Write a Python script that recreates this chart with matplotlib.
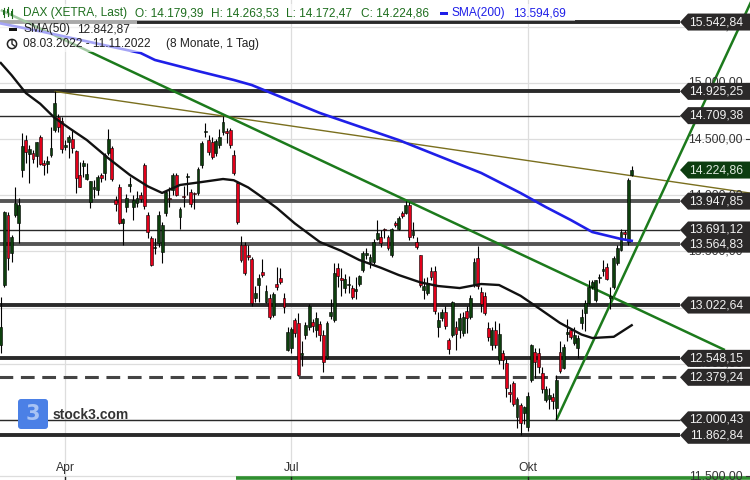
import numpy as np
import pandas as pd
import matplotlib
matplotlib.use("Agg")
import matplotlib.pyplot as plt
from matplotlib.patches import Polygon, Circle, FancyBboxPatch, Rectangle
from matplotlib.transforms import IdentityTransform

plt.rcParams['font.family'] = ['Liberation Sans', 'DejaVu Sans']

# DAX (XETRA) daily candles, 08.03.2022 - 11.11.2022
opens = [12667, 13201, 13825, 13483, 13825, 13756, 14225, 14492, 14368, 14374, 14350, 14522, 14290, 14280, 14362, 14581, 14700, 14665,
         14430, 14478, 14498, 14394, 14181, 14261, 14145, 13943, 14053, 14047, 14181, 14200, 14380, 14420, 13960, 14077, 13751, 13896, 14085,
         13900, 13930, 14003, 14270, 13825, 13617, 13528, 13573, 13495, 13840, 13980, 14047, 14181, 13807, 13990, 14160, 14030, 14020, 14020, 14270, 14560, 14492,
         14475, 14376, 14448, 14564, 14564, 14581, 14359, 14110, 13557, 13557, 13470, 13433, 13085, 13201, 13317, 13050, 13085, 12934, 13210, 13264, 13085, 12622,
         12640, 12890, 12863, 12578, 12756, 12827, 12870, 12800, 12850, 12756, 12551, 12925, 12890, 13353, 13260, 13175, 13200, 13175, 13150, 13210, 13335,
         13470, 13406, 13406, 13611, 13629, 13690, 13629, 13468, 13753, 13700, 13842, 13842, 13914, 13646, 13584, 13468, 13157, 13130, 13326, 13326, 12827, 12907, 12961,
         12711, 12756, 12827, 12800, 12774, 12970, 12916, 13201, 13442, 13139, 13100, 12818, 12667, 12800, 12533, 12600, 12507, 12250, 12329, 12026, 12133, 12062,
         11937, 12355, 12605, 12596, 12418, 12177, 12190, 12204, 12106, 12605, 12462, 12765, 12800, 12685, 12640, 12863, 12952, 13041, 13183, 13068, 13260,
         13330, 13362, 13085, 13183, 13397, 13513, 13673, 13584, 14179.39]
highs = [13094, 13860, 13851, 13646, 14077, 13973, 14555, 14537, 14448, 14400, 14478, 14540, 14314, 14350, 14611, 14925, 14727, 14700,
         14492, 14537, 14581, 14403, 14299, 14314, 14288, 14130, 14136, 14180, 14200, 14380, 14590, 14440, 13990, 14100, 13800, 14010, 14160,
         14003, 14040, 14030, 14290, 13850, 13640, 13620, 13860, 13760, 14040, 14070, 14200, 14200, 13900, 14080, 14200, 14060, 14030, 14250, 14480, 14640, 14540,
         14520, 14500, 14590, 14709, 14600, 14600, 14400, 14130, 13640, 13580, 13560, 13450, 13190, 13300, 13430, 13200, 13120, 13140, 13360, 13350, 13130, 12830,
         12830, 12910, 12950, 12700, 12870, 13030, 12900, 12960, 12880, 12800, 12880, 13080, 13400, 13400, 13350, 13300, 13280, 13200, 13270, 13290, 13500,
         13530, 13480, 13610, 13780, 13690, 13710, 13650, 13710, 13770, 13815, 13860, 13948, 13940, 13760, 13630, 13470, 13260, 13270, 13360, 13370, 12960, 12990, 13010,
         12730, 13060, 12880, 12950, 12960, 13010, 13110, 13440, 13546, 13185, 13140, 12870, 12830, 12880, 12860, 12620, 12540, 12320, 12350, 12200, 12150, 12120,
         12250, 12680, 12640, 12640, 12470, 12300, 12280, 12240, 12400, 12700, 12680, 12900, 12820, 12830, 12760, 12990, 13070, 13250, 13250, 13250, 13300,
         13420, 13400, 13180, 13460, 13560, 13700, 13690, 14150, 14263.53]
lows = [12600, 13180, 13335, 13406, 13810, 13573, 14163, 14290, 14107, 14290, 14252, 14270, 14181, 14200, 14340, 14566, 14566, 14380,
        14403, 14329, 14374, 14018, 14071, 14166, 14136, 13884, 13973, 14000, 14120, 14136, 14359, 14130, 13860, 13740, 13557, 13850, 14030,
        13780, 13900, 13940, 13880, 13620, 13370, 13480, 13540, 13400, 13820, 13900, 14000, 13990, 13700, 13900, 14000, 13900, 13880, 14000, 14240, 14520, 14360,
        14320, 14350, 14420, 14540, 14470, 14420, 14180, 13740, 13410, 13290, 13420, 13010, 13050, 13050, 13270, 13040, 12900, 12920, 13160, 13210, 12950, 12610,
        12600, 12740, 12390, 12480, 12720, 12800, 12780, 12740, 12700, 12426, 12540, 12900, 12870, 13180, 13100, 13130, 13130, 13080, 13080, 13190, 13320,
        13430, 13350, 13390, 13600, 13540, 13620, 13510, 13450, 13720, 13690, 13800, 13830, 13600, 13620, 13520, 13180, 13080, 13110, 13250, 12940, 12740, 12880, 12810,
        12590, 12740, 12620, 12730, 12750, 12770, 12900, 13180, 13170, 12960, 12930, 12700, 12620, 12640, 12500, 12450, 12200, 12160, 12120, 11930, 11863, 11960,
        11900, 12340, 12370, 12420, 12240, 12160, 12100, 12100, 12000, 12420, 12450, 12700, 12720, 12670, 12550, 12810, 12790, 13030, 13170, 13050, 13220,
        13280, 13250, 12990, 13170, 13380, 13500, 13610, 13560, 14172.47]
closes = [12831, 13847, 13442, 13628, 13929, 13917, 14440, 14388, 14413, 14326, 14473, 14283, 14274, 14305, 14417, 14820, 14605, 14415,
          14446, 14518, 14424, 14152, 14078, 14284, 14193, 14124, 14076, 14163, 14153, 14362, 14502, 14142, 13924, 13756, 13793, 13979, 14097,
          13960, 13980, 13970, 13902, 13674, 13380, 13535, 13828, 13739, 14027, 13964, 14185, 14007, 13882, 13981, 14175, 13919, 14008, 14231, 14462, 14575, 14388,
          14340, 14485, 14520, 14653, 14556, 14445, 14198, 13762, 13427, 13304, 13447, 13038, 13126, 13265, 13292, 13145, 12912, 13118, 13186, 13231, 13003, 12784,
          12813, 12773, 12401, 12595, 12843, 13015, 12832, 12905, 12756, 12519, 12864, 12959, 13308, 13281, 13246, 13254, 13210, 13097, 13166, 13282, 13484,
          13479, 13449, 13587, 13662, 13573, 13688, 13535, 13700, 13736, 13795, 13816, 13910, 13630, 13682, 13544, 13200, 13194, 13219, 13271, 12971, 12892, 12961, 12834,
          12631, 13050, 12761, 12907, 12916, 12904, 13088, 13402, 13188, 13028, 12956, 12741, 12803, 12671, 12767, 12531, 12284, 12227, 12139, 12183, 11975, 12114,
          12209, 12671, 12517, 12471, 12273, 12272, 12220, 12172, 12355, 12438, 12649, 12783, 12741, 12756, 12731, 12916, 13041, 13183, 13228, 13243, 13273,
          13338, 13257, 13094, 13442, 13531, 13673, 13655, 14136, 14224.86]

# moving averages (trading-day index, value)
sma50_idx = [0, 3, 7, 11, 15, 19, 24, 30, 36, 41, 45, 50, 56, 62, 65, 69, 72, 77, 82, 89, 95, 100, 106,
             111, 117, 122, 128, 134, 139, 145, 150, 156, 162, 165, 171, 176]
sma50_val = [15178, 15070, 14910, 14815, 14690, 14600, 14492, 14330, 14181, 14080, 14021, 14092, 14118, 14145,
             14134, 14070, 14003, 13887, 13750, 13584, 13505, 13424, 13355, 13290, 13225, 13192, 13174, 13210,
             13201, 13105, 12996, 12863, 12760, 12729, 12740, 12842.87]
sma200_idx = [0, 12, 39, 43, 56, 65, 70, 89, 111, 134, 139, 145, 152, 159, 165, 173, 176]
sma200_val = [15530, 15454, 15267, 15205, 15098, 15027, 14982, 14733, 14492, 14199, 14118, 14020, 13896,
              13780, 13673, 13611, 13594.69]

# horizontal levels
levels = [15542.84, 14925.25, 14709.38, 13947.85, 13691.12, 13564.83, 13022.64, 12548.15, 12379.24, 12000.43, 11862.84]
level_style = ['thick', 'thick', 'thin', 'grey', 'thin', 'grey', 'thick', 'thick', 'dash', 'thin', 'thick']
last_price = 14224.86

# trend lines (index, price)
olive_line = [(15, 14925.25), (209, 14020)]
down_line = [(0, 15650), (202, 12622)]
up_line = [(155, 11999), (212, 15909)]
bottom_line = [(65.6, 11482), (209, 11482)]

y_ticks = list(range(11500, 16000, 500))
month_names = {4: "Apr", 7: "Jul", 10: "Okt"}

dates = pd.bdate_range("2022-03-08", "2022-11-11").drop(pd.to_datetime(["2022-04-15", "2022-04-18"]))
idx = np.arange(len(closes))


def de(v):
    return f"{v:,.2f}".replace(",", "X").replace(".", ",").replace("X", ".")


W, H = 750, 480
fig = plt.figure(figsize=(7.5, 4.8), dpi=100)
ax = fig.add_axes([0, 0, 1, 1])
ax.set_xlim(-0.22, 209.0)
ax.set_ylim(11464.7, 15739.1)
ax.axis('off')


def ypx(v):
    return ax.transData.transform((0, v))[1]


def xpx(i):
    return ax.transData.transform((i, 0))[0]


def xdata(px):
    return ax.transData.inverted().transform((px, 0))[0]


ident = IdentityTransform()

# grid
for t in y_ticks:
    ax.axhline(t, color='#dddddd', lw=0.9, zorder=0)
month_idx = []
for m, name in month_names.items():
    i = int(np.argmax(dates.month == m))
    month_idx.append((i, name))
    ax.axvline(i, color='#dddddd', lw=0.9, zorder=0)

# logo (watermark, under the lines)
fig.patches.append(FancyBboxPatch((18, H - 429), 30, 30, boxstyle="round,pad=0,rounding_size=3",
                                  fc='#4b80e6', ec='none', transform=ident, zorder=0.5))
fig.text(33 / W, 1 - 414 / H, "3", color='#a8c3f4', fontsize=15, fontweight='bold',
         ha='center', va='center', family='DejaVu Sans', zorder=0.6)
fig.text(53 / W, 1 - 415 / H, "stock3.com", color='#333333', fontsize=10, fontweight='bold',
         ha='left', va='center', zorder=0.6)

# levels
x_lab = xdata(680)
for lv, st in zip(levels, level_style):
    if st == 'thick':
        ax.hlines(lv, -1, x_lab, color='#2a2a2a', lw=2.8, zorder=1)
    elif st == 'grey':
        ax.hlines(lv, -1, x_lab, color='#555555', lw=2.8, zorder=1)
    elif st == 'thin':
        ax.hlines(lv, -1, x_lab, color='#2a2a2a', lw=1.0, zorder=1)
    else:
        ax.hlines(lv, -1, x_lab, color='#444444', lw=2.2, linestyles=(0, (4.5, 2.5)), zorder=1)

# trend lines
for pts, col, lw in [(olive_line, '#7a6f1e', 1.0), (down_line, '#1c7a1c', 1.8),
                     (up_line, '#1c7a1c', 1.8), (bottom_line, '#2f8f2f', 2.6)]:
    ax.plot([p[0] for p in pts], [p[1] for p in pts], color=col, lw=lw, zorder=2,
            solid_capstyle='butt')

# candles
o = np.array(opens, float)
c = np.array(closes, float)
hi = np.array(highs, float)
lo = np.array(lows, float)
up = c >= o
body_lo = np.minimum(o, c)
body_h = np.maximum(np.abs(c - o), 14)
ax.vlines(idx, lo, hi, color='black', lw=0.8, zorder=3)
ax.bar(idx[up], body_h[up], bottom=body_lo[up], width=0.8, color='#0d3f0d',
       edgecolor='black', linewidth=0.4, zorder=4)
ax.bar(idx[~up], body_h[~up], bottom=body_lo[~up], width=0.8, color='#e2001a',
       edgecolor='black', linewidth=0.4, zorder=4)

# moving averages
ax.plot(sma200_idx, sma200_val, color='#1f1fe8', lw=1.9, zorder=5)
ax.plot(sma50_idx, sma50_val, color='#111111', lw=1.7, zorder=5)

# right axis tick labels
for t in y_ticks:
    y = ypx(t)
    fig.text(743, y, de(t), transform=ident, ha='right', va='center', fontsize=8.7,
             color='#333333', zorder=6)
    fig.lines.append(plt.Line2D([746, 750], [y, y], transform=ident, color='#333333', lw=0.8))

# bottom month labels
for i, name in month_idx:
    x = xpx(i)
    fig.text(x, H - 468, name, transform=ident, ha='center', va='center', fontsize=8.7,
             color='#333333')
    fig.lines.append(plt.Line2D([x, x], [0, 3], transform=ident, color='#222222', lw=1))


# level labels
def tag(v, fc, tc):
    y = ypx(v)
    h = 8.5
    poly = Polygon([(680, y), (688, y + h), (750, y + h), (750, y - h), (688, y - h)],
                   closed=True, fc=fc, ec='none', transform=ident, zorder=7)
    fig.patches.append(poly)
    fig.text(743, y, de(v), transform=ident, ha='right', va='center', fontsize=8.7,
             color=tc, zorder=8)


for lv in levels:
    tag(lv, '#2b2929', '#f2f2f2')
tag(last_price, '#0d3d10', '#dfe9df')

# header legend
for x0, y0, x1, y1 in [(0, 4, 575, 21), (0, 21, 137, 37), (0, 37, 262, 52)]:
    fig.patches.append(Rectangle((x0, H - y1), x1 - x0, y1 - y0, fc='white', alpha=0.6,
                                 ec='none', transform=ident, zorder=8))

green_txt = '#1e6e1e'
# small candle icon
for cx, b0, b1, w0, w1 in [(4, 10, 15, 8, 17), (8, 9, 13, 7, 16), (12, 11, 16, 9, 18)]:
    fig.lines.append(plt.Line2D([cx, cx], [H - w1, H - w0], transform=ident, color=green_txt, lw=0.8, zorder=9))
    fig.patches.append(Rectangle((cx - 1.3, H - b1), 2.6, b1 - b0, fc=green_txt, ec='none',
                                 transform=ident, zorder=9))

row1 = [(23, "DAX (XETRA, Last)"), (135, "O: 14.179,39"), (211, "H: 14.263,53"),
        (286, "L: 14.172,47"), (361, "C: 14.224,86")]
for x, s in row1:
    fig.text(x, H - 13, s, transform=ident, ha='left', va='center', fontsize=8.6,
             color=green_txt, zorder=9)
fig.patches.append(Rectangle((440, H - 14.5), 8, 3, fc='#1f1fe8', ec='none', transform=ident, zorder=9))
fig.text(452, H - 13, "SMA(200)", transform=ident, ha='left', va='center', fontsize=8.6,
         color='#1f1fe8', zorder=9)
fig.text(513, H - 13, "13.594,69", transform=ident, ha='left', va='center', fontsize=8.6,
         color='#1f1fe8', zorder=9)

fig.patches.append(Rectangle((9, H - 31), 8, 3, fc='#111111', ec='none', transform=ident, zorder=9))
fig.text(24, H - 29, "SMA(50)", transform=ident, ha='left', va='center', fontsize=8.6,
         color='#222222', zorder=9)
fig.text(77, H - 29, "12.842,87", transform=ident, ha='left', va='center', fontsize=8.6,
         color='#222222', zorder=9)

fig.patches.append(Circle((12, H - 44), 4.6, fc='none', ec='#222222', lw=1.1, transform=ident, zorder=9))
fig.lines.append(plt.Line2D([12, 12, 14.5], [H - 40.5, H - 44, H - 46], transform=ident,
                            color='#222222', lw=1.0, zorder=9))
fig.text(23, H - 44, "08.03.2022 - 11.11.2022", transform=ident, ha='left', va='center',
         fontsize=8.6, color='#222222', zorder=9)
fig.text(166, H - 44, "(8 Monate, 1 Tag)", transform=ident, ha='left', va='center',
         fontsize=8.6, color='#222222', zorder=9)

fig.savefig("out.png", dpi=100)
